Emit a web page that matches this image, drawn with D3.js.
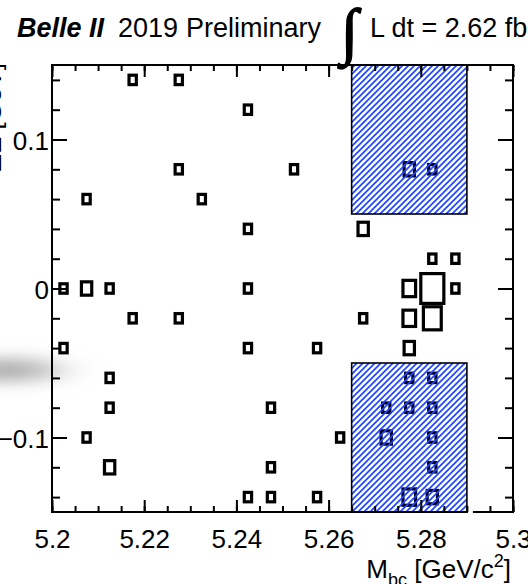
<!DOCTYPE html>
<html>
<head>
<meta charset="utf-8">
<script src="https://cdn.jsdelivr.net/npm/d3@7"></script>
<style>
  html, body { margin: 0; padding: 0; background: #fff; }
  svg { display: block; font-family: "Liberation Sans", Arial, Helvetica, sans-serif; }
</style>
</head>
<body>
<svg id="chart" width="528" height="584"></svg>
<script>
// Candidate counts binned in M_bc (GeV/c^2) and ΔE (GeV); one entry per filled cell
const cellMbc = [
  5.2175, 5.2275,
  5.2425,
  5.2275, 5.2525, 5.2775, 5.2825,
  5.2075, 5.2325,
  5.2425, 5.2675,
  5.2825, 5.2875,
  5.2025, 5.2075, 5.2125, 5.2425, 5.2775, 5.2825, 5.2875,
  5.2175, 5.2275, 5.2675, 5.2775, 5.2825,
  5.2025, 5.2425, 5.2575, 5.2775,
  5.2125, 5.2775, 5.2825,
  5.2125, 5.2475, 5.2725, 5.2775, 5.2825,
  5.2075, 5.2625, 5.2725, 5.2825,
  5.2125, 5.2475, 5.2825,
  5.2425, 5.2475, 5.2575, 5.2775, 5.2825
];
const cellDeltaE = [
  0.14, 0.14,
  0.12,
  0.08, 0.08, 0.08, 0.08,
  0.06, 0.06,
  0.04, 0.04,
  0.02, 0.02,
  0, 0, 0, 0, 0, 0, 0,
  -0.02, -0.02, -0.02, -0.02, -0.02,
  -0.04, -0.04, -0.04, -0.04,
  -0.06, -0.06, -0.06,
  -0.08, -0.08, -0.08, -0.08, -0.08,
  -0.10, -0.10, -0.10, -0.10,
  -0.12, -0.12, -0.12,
  -0.14, -0.14, -0.14, -0.14, -0.14
];
const cellEntries = [
  1, 1,
  1,
  1, 1, 2, 1,
  1, 1,
  1, 2,
  1, 1,
  1, 2, 1, 1, 3, 10, 1,
  1, 1, 1, 3, 6,
  1, 1, 1, 2,
  1, 1, 1,
  1, 1, 1, 1, 1,
  1, 1, 2, 1,
  2, 1, 1,
  1, 1, 1, 3, 2
];

// Histogram binning
const mbcRange = [5.2, 5.3];
const deltaERange = [-0.15, 0.15];
const mbcBinWidth = 0.005;
const deltaEBinWidth = 0.02;

// Sideband regions (hatched)
const sidebandMbc = [5.265, 5.29];
const sidebandDeltaELow = [-0.15, -0.05];
const sidebandDeltaEHigh = [0.05, 0.15];

// Axis ticks
const xMajorTicks = [5.2, 5.22, 5.24, 5.26, 5.28, 5.3];
const xMinorTicks = d3.range(0, 21).map(i => +(5.2 + i * 0.005).toFixed(3));
const yMajorTicks = [-0.1, 0, 0.1];
const yMinorTicks = d3.range(-7, 8).map(i => +(i * 0.02).toFixed(2));

const frame = { left: 52, right: 513, top: 65, bottom: 512 };
const fontSize = 26;
const headerSize = 27;
const hatchBlue = "#1e44ff";

const svg = d3.select("#chart");
const x = d3.scaleLinear().domain(mbcRange).range([frame.left, frame.right]);
const y = d3.scaleLinear().domain(deltaERange).range([frame.bottom, frame.top]);

const defs = svg.append("defs");
const hatch = defs.append("pattern")
  .attr("id", "hatch")
  .attr("patternUnits", "userSpaceOnUse")
  .attr("width", 6).attr("height", 6);
hatch.append("path")
  .attr("d", "M-1,1 l2,-2 M0,6 l6,-6 M5,7 l2,-2")
  .attr("stroke", hatchBlue)
  .attr("stroke-width", 1.7)
  .attr("fill", "none");

const smudge = defs.append("filter")
  .attr("id", "smudge")
  .attr("x", "-100%").attr("y", "-300%")
  .attr("width", "300%").attr("height", "700%");
smudge.append("feGaussianBlur").attr("stdDeviation", "22 8");

svg.append("rect").attr("width", 528).attr("height", 584).attr("fill", "#fff");

// soft grey smear at the left edge
svg.append("ellipse")
  .attr("cx", 4).attr("cy", 370)
  .attr("rx", 55).attr("ry", 11)
  .attr("fill", "#a8a8a8")
  .attr("filter", "url(#smudge)");

// Boxes: linear size scales with sqrt(entries / max)
const maxEntries = d3.max(cellEntries);
const cells = cellMbc.map((m, i) => ({ m, d: cellDeltaE[i], n: cellEntries[i] }));

svg.append("g")
  .selectAll("rect")
  .data(cells)
  .join("rect")
  .each(function (c) {
    const f = Math.sqrt(c.n / maxEntries);
    const x0 = x(c.m - mbcBinWidth / 2), x1 = x(c.m + mbcBinWidth / 2);
    const y0 = y(c.d + deltaEBinWidth / 2), y1 = y(c.d - deltaEBinWidth / 2);
    const w = (x1 - x0) * f, h = (y1 - y0) * f;
    const cx = (x0 + x1) / 2, cy = (y0 + y1) / 2;
    d3.select(this)
      .attr("x", cx - w / 2).attr("y", cy - h / 2)
      .attr("width", w).attr("height", h);
  })
  .attr("fill", "none")
  .attr("stroke", "#000")
  .attr("stroke-width", 3.2);

// Hatched sideband regions
svg.append("g")
  .selectAll("rect")
  .data([sidebandDeltaEHigh, sidebandDeltaELow])
  .join("rect")
  .attr("x", x(sidebandMbc[0]))
  .attr("width", x(sidebandMbc[1]) - x(sidebandMbc[0]))
  .attr("y", d => y(d[1]))
  .attr("height", d => y(d[0]) - y(d[1]))
  .attr("fill", "url(#hatch)")
  .attr("stroke", "#000")
  .attr("stroke-width", 1.6);

// Frame
svg.append("rect")
  .attr("x", frame.left).attr("y", frame.top)
  .attr("width", frame.right - frame.left)
  .attr("height", frame.bottom - frame.top)
  .attr("fill", "none")
  .attr("stroke", "#000")
  .attr("stroke-width", 2);

// break in the lower frame line right of the sideband
svg.append("line")
  .attr("x1", x(sidebandMbc[1]) + 1).attr("x2", x(sidebandMbc[1]) + 6)
  .attr("y1", frame.bottom).attr("y2", frame.bottom)
  .attr("stroke", "#fff").attr("stroke-width", 3);

function styleAxis(g) {
  g.select(".domain").remove();
  g.selectAll(".tick line").attr("stroke", "#000").attr("stroke-width", 2);
  g.selectAll("text")
    .attr("fill", "#000")
    .attr("font-family", '"Liberation Sans", Arial, Helvetica, sans-serif')
    .attr("font-size", fontSize);
}

const fmtX = v => String(+v.toFixed(2));
const fmtY = v => (v < 0 ? "\u2212" : "") + String(Math.abs(+v.toFixed(2)));

// Bottom axis
svg.append("g").attr("transform", `translate(0,${frame.bottom})`)
  .call(d3.axisBottom(x).tickValues(xMinorTicks).tickSize(-6).tickFormat(""))
  .call(styleAxis);
svg.append("g").attr("transform", `translate(0,${frame.bottom})`)
  .call(d3.axisBottom(x).tickValues(xMajorTicks).tickSize(-12).tickPadding(17.5).tickFormat(fmtX))
  .call(styleAxis);

// Top axis
svg.append("g").attr("transform", `translate(0,${frame.top})`)
  .call(d3.axisTop(x).tickValues(xMinorTicks).tickSize(-6).tickFormat(""))
  .call(styleAxis);
svg.append("g").attr("transform", `translate(0,${frame.top})`)
  .call(d3.axisTop(x).tickValues(xMajorTicks).tickSize(-12).tickFormat(""))
  .call(styleAxis);

// Left axis
svg.append("g").attr("transform", `translate(${frame.left},0)`)
  .call(d3.axisLeft(y).tickValues(yMinorTicks).tickSize(-8).tickFormat(""))
  .call(styleAxis);
svg.append("g").attr("transform", `translate(${frame.left},0)`)
  .call(d3.axisLeft(y).tickValues(yMajorTicks).tickSize(-15).tickPadding(3).tickFormat(fmtY))
  .call(styleAxis)
  .call(g => g.selectAll("text").attr("dy", "0.38em"));

// Right axis
svg.append("g").attr("transform", `translate(${frame.right},0)`)
  .call(d3.axisRight(y).tickValues(yMinorTicks).tickSize(-8).tickFormat(""))
  .call(styleAxis);
svg.append("g").attr("transform", `translate(${frame.right},0)`)
  .call(d3.axisRight(y).tickValues(yMajorTicks).tickSize(-15).tickFormat(""))
  .call(styleAxis);

// Axis titles
const xTitle = svg.append("text")
  .attr("x", 511).attr("y", 578)
  .attr("text-anchor", "end")
  .attr("font-size", fontSize)
  .attr("fill", "#000");
xTitle.append("tspan").text("M");
xTitle.append("tspan").attr("dy", 8).attr("font-size", 18).text("bc");
xTitle.append("tspan").attr("dy", -8).text(" [GeV/c");
xTitle.append("tspan").attr("dy", -11).attr("font-size", 18).text("2");
xTitle.append("tspan").attr("dy", 11).text("]");

svg.append("text")
  .attr("transform", "translate(1,63) rotate(-90)")
  .attr("text-anchor", "end")
  .attr("font-size", fontSize)
  .attr("fill", "#000")
  .text("\u0394E [GeV]");

// Header
const header = svg.append("g").attr("fill", "#000").attr("font-size", headerSize);
header.append("text").attr("x", 17).attr("y", 37)
  .attr("font-weight", "bold").attr("font-style", "italic")
  .text("Belle II");
header.append("text").attr("x", 118).attr("y", 37).text("2019");
header.append("text").attr("x", 186).attr("y", 37).text("Preliminary");
header.append("text").attr("x", 341).attr("y", 52)
  .attr("font-family", '"Liberation Serif", "Times New Roman", serif')
  .attr("font-size", 62)
  .attr("stroke", "#000").attr("stroke-width", 1.6)
  .text("\u222B");
const lumi = header.append("text").attr("x", 370).attr("y", 37);
lumi.append("tspan").text("L dt = 2.62 fb");
lumi.append("tspan").attr("dy", -11).attr("font-size", 19).text("\u22121");
</script>
</body>
</html>
